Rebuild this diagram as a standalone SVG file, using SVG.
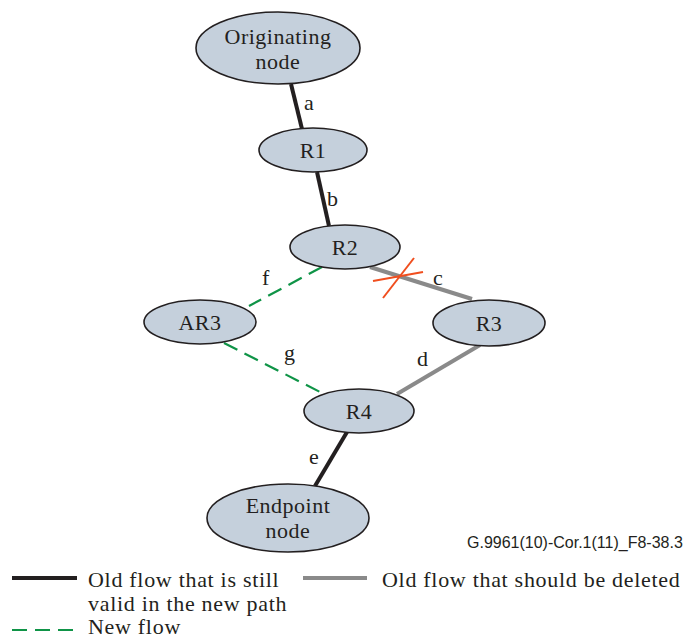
<svg xmlns="http://www.w3.org/2000/svg" width="686" height="639" viewBox="0 0 686 639">
<style>
.node ellipse{fill:#c5d0dc;stroke:#231f20;stroke-width:1.6}
.lbl{font-family:"Liberation Serif","Times New Roman",serif;font-size:22px;fill:#231f20;letter-spacing:0.5px}
.nl{text-anchor:middle}
.leg{font-family:"Liberation Serif","Times New Roman",serif;font-size:22px;fill:#231f20;letter-spacing:0.7px}
.old{stroke:#231f20;stroke-width:4;fill:none}
.del{stroke:#8a8a8a;stroke-width:4;fill:none}
.new{stroke:#0f9447;stroke-width:2.2;fill:none;stroke-dasharray:15 8}
.x{stroke:#f04e1e;stroke-width:2;fill:none}
.cap{font-family:"Liberation Sans",Arial,sans-serif;font-size:16px;fill:#231f20}
</style>
<rect width="686" height="639" fill="#ffffff"/>
<g id="connectors">
<line class="old" x1="291" y1="84" x2="302" y2="129"/>
<line class="old" x1="317" y1="172" x2="329" y2="226"/>
<line class="del" x1="370" y1="267" x2="472" y2="299"/>
<line class="del" x1="480" y1="345" x2="397" y2="394"/>
<line class="old" x1="347" y1="432" x2="315" y2="486"/>
<line class="new" x1="322" y1="267" x2="249" y2="306"/>
<line class="new" x1="224" y1="343" x2="322" y2="393"/>
<line class="x" x1="373" y1="281" x2="423" y2="272"/>
<line class="x" x1="383" y1="298" x2="414" y2="258"/>
<text class="lbl" x="304" y="110">a</text>
<text class="lbl" x="327" y="206">b</text>
<text class="lbl" x="433" y="285">c</text>
<text class="lbl" x="417" y="366">d</text>
<text class="lbl" x="309" y="464">e</text>
<text class="lbl" x="262" y="285">f</text>
<text class="lbl" x="284" y="360">g</text>
</g>
<g id="originating" class="node">
<ellipse cx="278" cy="48" rx="82" ry="36"/>
<text class="lbl nl" x="278" y="44">Originating</text>
<text class="lbl nl" x="278" y="69">node</text>
</g>
<g id="r1" class="node">
<ellipse cx="313" cy="150" rx="54" ry="22"/>
<text class="lbl nl" x="313" y="158">R1</text>
</g>
<g id="r2" class="node">
<ellipse cx="345" cy="247" rx="55" ry="22"/>
<text class="lbl nl" x="345" y="255">R2</text>
</g>
<g id="ar3" class="node">
<ellipse cx="200" cy="322" rx="56" ry="22"/>
<text class="lbl nl" x="200" y="330">AR3</text>
</g>
<g id="r3" class="node">
<ellipse cx="489" cy="323" rx="56" ry="23"/>
<text class="lbl nl" x="489" y="331">R3</text>
</g>
<g id="r4" class="node">
<ellipse cx="359" cy="411" rx="55" ry="22"/>
<text class="lbl nl" x="359" y="419">R4</text>
</g>
<g id="endpoint" class="node">
<ellipse cx="288" cy="518" rx="81" ry="34"/>
<text class="lbl nl" x="288" y="513">Endpoint</text>
<text class="lbl nl" x="288" y="538">node</text>
</g>
<text class="cap" x="467" y="548">G.9961(10)-Cor.1(11)_F8-38.3</text>
<g id="legend">
<line class="old" x1="12" y1="578" x2="77" y2="578"/>
<text class="leg" x="88" y="587">Old flow that is still</text>
<text class="leg" x="88" y="611">valid in the new path</text>
<line class="del" x1="303" y1="578" x2="367" y2="578"/>
<text class="leg" x="382" y="587">Old flow that should be deleted</text>
<line class="new" x1="12" y1="630" x2="73" y2="630"/>
<text class="leg" x="88" y="634">New flow</text>
</g>
</svg>
